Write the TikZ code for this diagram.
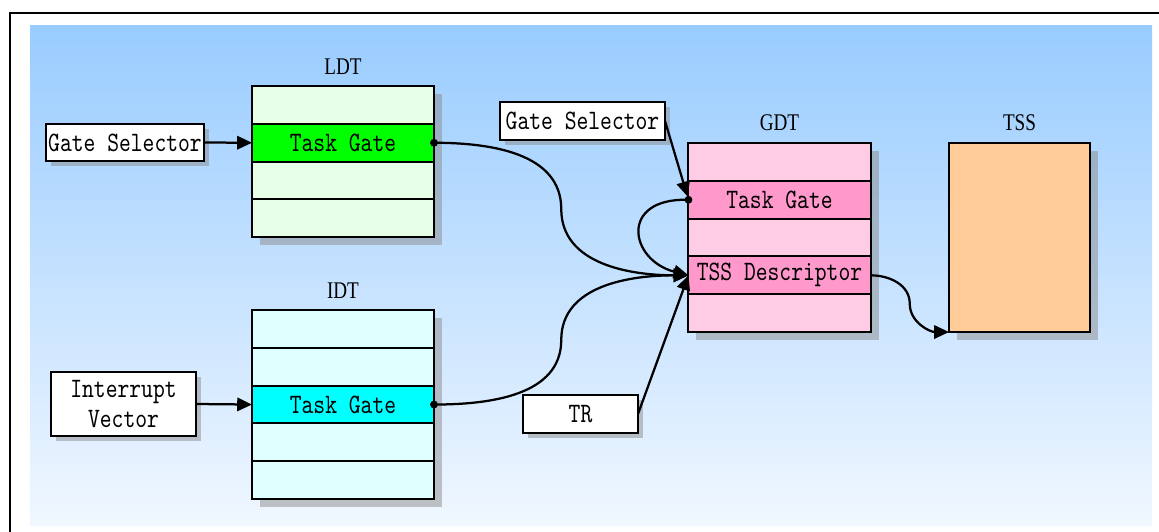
\documentclass[tikz,border=0pt]{standalone}
\usepackage{fontspec}
\setmainfont{Liberation Serif}[FakeStretch=0.8]
\setmonofont{lmmono10-regular}[Extension=.otf,FakeStretch=0.8]
\usetikzlibrary{arrows.meta,positioning,calc,shadows}
\definecolor{skytop}{HTML}{99CCFF}
\definecolor{skybot}{HTML}{F0F7FF}
\definecolor{ldtrow}{HTML}{E6FFE6}
\definecolor{ldthit}{HTML}{00FF00}
\definecolor{idtrow}{HTML}{E0FFFF}
\definecolor{idthit}{HTML}{00FFFF}
\definecolor{gdtrow}{HTML}{FFCCE6}
\definecolor{gdthit}{HTML}{FF99CC}
\definecolor{tssfill}{HTML}{FFCC99}

\begin{document}
\begin{tikzpicture}[x=0.025cm,y=-0.025cm,>={Triangle[length=10.5pt,width=9.5pt]},
 box/.style={draw,line width=1.4pt,fill=white,inner sep=0pt,outer sep=0pt,align=center,font=\ttfamily\fontsize{20}{22}\selectfont},
 shd/.style={general shadow={shadow xshift=#1,shadow yshift=-#1,fill=black!45,fill opacity=.5}},
 row/.style={box,shd=.2cm,minimum width=4.55cm,minimum height=.944cm},
 ttl/.style={font=\rmfamily\fontsize{17}{19}\selectfont},
 link/.style={line width=1.6pt}]
\useasboundingbox (0,0) rectangle (1159,532);
\shade[top color=skytop,bottom color=skybot] (30,26) rectangle (1152,525);
\draw[line width=1.8pt] (10,532) -- (10,13) -- (1159,13);
% left-hand selectors
\node[box,shd=.125cm,minimum width=3.95cm,minimum height=.925cm] (gs1) at (125,142.5) {Gate Selector};
\node[box,shd=.125cm,minimum width=3.625cm,minimum height=1.6cm] (iv) at (123.5,404) {Interrupt\\Vector};
% LDT
\node[row,fill=ldtrow] (l1) at (343,105) {};
\node[row,fill=ldthit,below=0pt of l1] (l2) {Task Gate};
\node[row,fill=ldtrow,below=0pt of l2] (l3) {};
\node[row,fill=ldtrow,below=0pt of l3] (l4) {};
\node[ttl,above=5pt of l1] (ldt) {LDT};
% IDT
\node[row,fill=idtrow] (i1) at (343,329) {};
\node[row,fill=idtrow,below=0pt of i1] (i2) {};
\node[row,fill=idthit,below=0pt of i2] (i3) {Task Gate};
\node[row,fill=idtrow,below=0pt of i3] (i4) {};
\node[row,fill=idtrow,below=0pt of i4] (i5) {};
\node[ttl,above=5pt of i1] (idt) {IDT};
% GDT
\node[row,fill=gdtrow] (g1) at (779.5,162) {};
\node[row,fill=gdthit,below=0pt of g1] (g2) {Task Gate};
\node[row,fill=gdtrow,below=0pt of g2] (g3) {};
\node[row,fill=gdthit,below=0pt of g3] (g4) {TSS Descriptor};
\node[row,fill=gdtrow,below=0pt of g4] (g5) {};
\node[ttl,above=5pt of g1] (gdt) {GDT};
% selector and TR, TSS
\node[box,shd=.125cm,minimum width=4.125cm,minimum height=.95cm] (gs2) at (582.5,121) {Gate Selector};
\node[box,shd=.125cm,minimum width=2.875cm,minimum height=.95cm] (tr) at (580.5,414) {TR};
\node[box,shd=.2cm,fill=tssfill,minimum width=3.525cm,minimum height=4.725cm] (tss) at (1019.5,237.5) {};
\node[ttl,above=5pt of tss] (tsst) {TSS};
% connectors
\draw[link,->] (gs1.east) -- (l2.west);
\draw[link,->] (iv.east) -- (i3.west);
\draw[link,->] (l2.east) to[out=0,in=90] ($(l2.east)!.5!(g4.west)$) to[out=-90,in=180] (g4.west);
\draw[link,->] (i3.east) to[out=0,in=-90] ($(i3.east)!.5!(g4.west)$) to[out=90,in=180] (g4.west);
\draw[link,->,shorten >=2.5pt] (gs2.east) -- (g2.west);
\draw[link,->] (g2.west) .. controls +(-70,-2) and +(-59,-15) .. (g4.west);
\draw[link,->] (tr.east) -- (g4.west);
\draw[link,->] (g4.east) to[out=0,in=90] ($(g4.east)!.5!(tss.south west)$) to[out=-90,in=180] (tss.south west);
\fill (l2.east) circle (2.8pt);
\fill (i3.east) circle (2.8pt);
\fill (g2.west) circle (2.8pt);
\end{tikzpicture}
\end{document}
